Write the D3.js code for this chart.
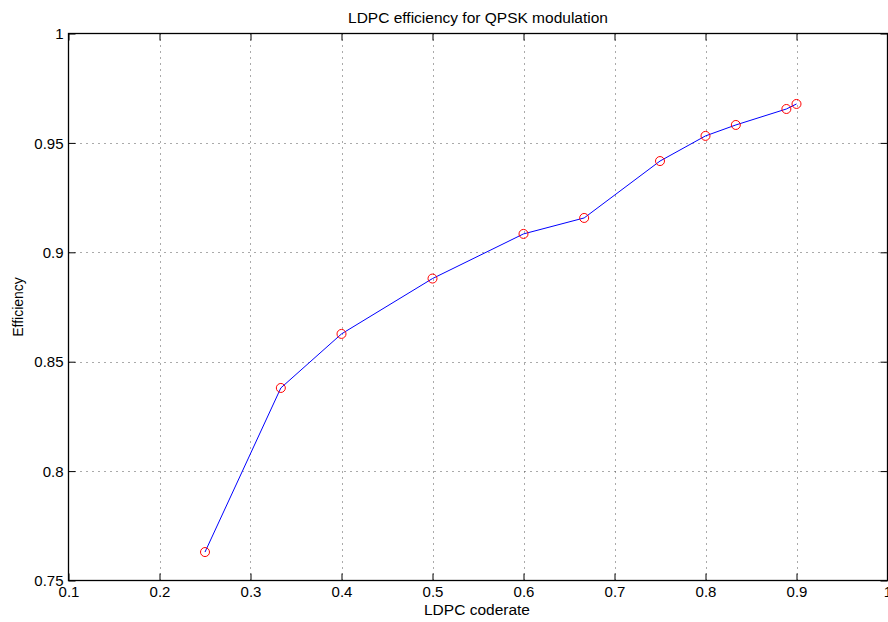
<!DOCTYPE html>
<html><head><meta charset="utf-8">
<script src="https://cdn.jsdelivr.net/npm/d3@7"></script>
<style>body{margin:0;background:#fff;} text{font-family:"Liberation Sans",Arial,Helvetica,sans-serif;}</style>
</head><body>
<svg id="c" width="888" height="622"></svg>
<script>
const coderates = [1/4, 1/3, 2/5, 1/2, 3/5, 2/3, 3/4, 4/5, 5/6, 8/9, 9/10];
const efficiency = [0.763, 0.838, 0.8627, 0.888, 0.9084, 0.9157, 0.9417, 0.9532, 0.9582, 0.9655, 0.9678];
const xTicks = [0.1, 0.2, 0.3, 0.4, 0.5, 0.6, 0.7, 0.8, 0.9, 1];
const yTicks = [0.75, 0.8, 0.85, 0.9, 0.95, 1];
const xTickLabels = ["0.1","0.2","0.3","0.4","0.5","0.6","0.7","0.8","0.9","1"];
const yTickLabels = ["0.75","0.8","0.85","0.9","0.95","1"];

const L = 68.5, R = 887.5, T = 33.5, B = 580.5;
const svg = d3.select("#c");
const x = d3.scaleLinear().domain([0.1, 1]).range([L, R]);
const y = d3.scaleLinear().domain([0.75, 1]).range([B, T]);

// grid
const g = svg.append("g");
g.selectAll(".vg").data(xTicks.slice(1, -1)).enter().append("line")
  .attr("x1", d => Math.round(x(d)) + 0.5).attr("x2", d => Math.round(x(d)) + 0.5)
  .attr("y1", T).attr("y2", B)
  .attr("stroke", "#555").attr("stroke-width", 1).attr("stroke-dasharray", "1,5");
g.selectAll(".hg").data(yTicks.slice(1, -1)).enter().append("line")
  .attr("y1", d => Math.round(y(d)) + 0.5).attr("y2", d => Math.round(y(d)) + 0.5)
  .attr("x1", L).attr("x2", R)
  .attr("stroke", "#555").attr("stroke-width", 1).attr("stroke-dasharray", "1,5");

// axes with inward ticks
const fs = "15px";
const xb = svg.append("g").attr("transform", `translate(0,${B})`)
  .call(d3.axisBottom(x).tickValues(xTicks).tickFormat((d,i) => xTickLabels[i]).tickSizeInner(-7).tickSizeOuter(0).tickPadding(10));
const xt = svg.append("g").attr("transform", `translate(0,${T})`)
  .call(d3.axisTop(x).tickValues(xTicks).tickFormat("").tickSizeInner(-7).tickSizeOuter(0));
const yl = svg.append("g").attr("transform", `translate(${L},0)`)
  .call(d3.axisLeft(y).tickValues(yTicks).tickFormat((d,i) => yTickLabels[i]).tickSizeInner(-7).tickSizeOuter(0).tickPadding(5));
const yr = svg.append("g").attr("transform", `translate(${R},0)`)
  .call(d3.axisRight(y).tickValues(yTicks).tickFormat("").tickSizeInner(-7).tickSizeOuter(0));
[xb, xt, yl, yr].forEach(a => {
  a.select(".domain").remove();
  a.selectAll("line").attr("stroke", "#000");
  a.selectAll("text").attr("fill", "#000").style("font-size", fs);
});
xb.selectAll("text").attr("dy", "0.71em").attr("y", 6);
yl.selectAll("text").attr("x", -5).attr("dy", "0.35em");

// box
svg.append("rect").attr("x", L).attr("y", T).attr("width", R - L).attr("height", B - T)
  .attr("fill", "none").attr("stroke", "#000").attr("stroke-width", 1.3);

// data
const pts = coderates.map((c, i) => [c, efficiency[i]]);
svg.append("path").datum(pts)
  .attr("d", d3.line().x(d => x(d[0])).y(d => y(d[1])))
  .attr("fill", "none").attr("stroke", "#0000ff").attr("stroke-width", 1);
svg.selectAll(".m").data(pts).enter().append("circle")
  .attr("cx", d => x(d[0])).attr("cy", d => y(d[1])).attr("r", 4.5)
  .attr("fill", "none").attr("stroke", "#ff0000").attr("stroke-width", 1);

// labels
svg.append("text").attr("x", 478).attr("y", 23).attr("text-anchor", "middle")
  .style("font-size", "15.5px").text("LDPC efficiency for QPSK modulation");
svg.append("text").attr("x", 477).attr("y", 615).attr("text-anchor", "middle")
  .style("font-size", "15.5px").text("LDPC coderate");
svg.append("text").attr("transform", "translate(23,307) rotate(-90)").attr("text-anchor", "middle")
  .style("font-size", "14px").text("Efficiency");
</script>
</body></html>
